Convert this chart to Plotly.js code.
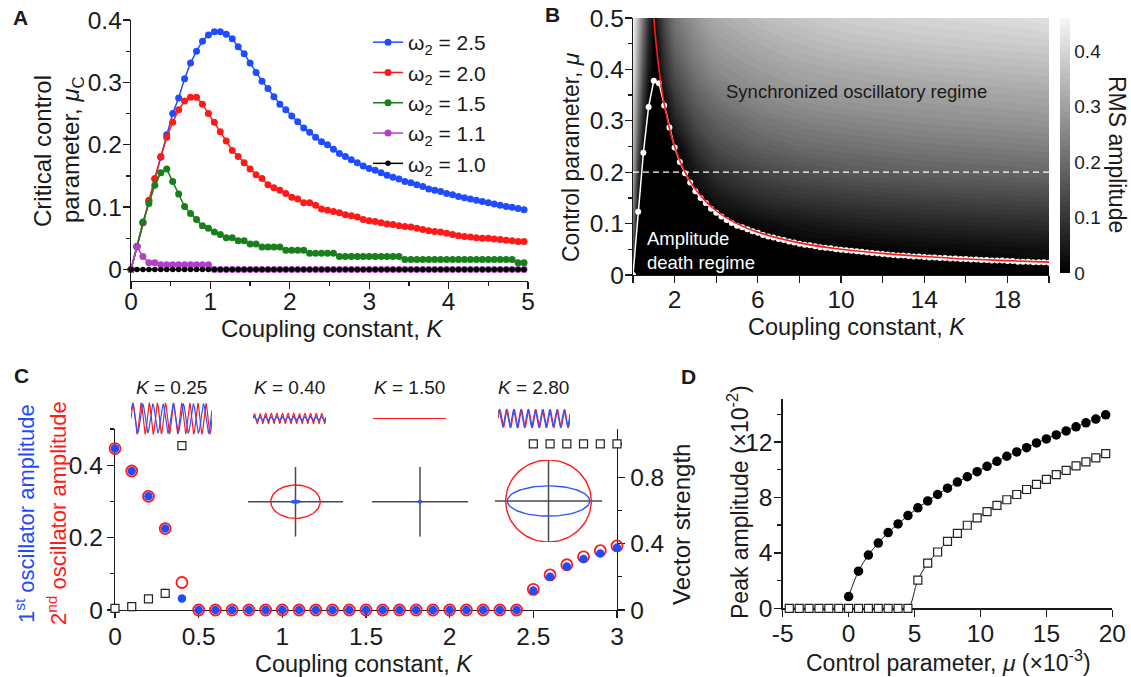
<!DOCTYPE html>
<html><head><meta charset="utf-8">
<script src="https://cdn.plot.ly/plotly-3.0.1.min.js"></script>
<style>body{margin:0;background:#fff}#chart{width:1131px;height:677px}</style>
</head><body><div id="chart"></div>
<script>
const W=1131,H=677;
const FONT='Liberation Sans, Arial, Helvetica, sans-serif';
const INK='#1a1a1a';
function px(a,b){return [a/W,b/W];}
function py(top,bot){return [1-bot/H,1-top/H];}
function grid(start,step,n){const o=[];for(let i=0;i<n;i++)o.push(+(start+i*step).toFixed(4));return o;}

// ---------- Panel A: critical control parameter vs K (K step 0.075) ----------
const A_K_step=0.075;
const muC_w25=[0,0.037,0.075,0.11,0.145,0.18,0.216,0.25,0.275,0.306,0.331,0.35,0.366,0.376,0.381,0.381,0.377,0.37,0.357,0.346,0.331,0.316,0.302,0.29,0.277,0.265,0.256,0.246,0.237,0.227,0.22,0.212,0.205,0.2,0.193,0.186,0.181,0.176,0.171,0.166,0.162,0.159,0.155,0.151,0.148,0.145,0.141,0.139,0.136,0.133,0.129,0.127,0.125,0.122,0.12,0.117,0.115,0.113,0.111,0.109,0.107,0.105,0.103,0.101,0.1,0.098,0.096];
const muC_w20=[0,0.037,0.075,0.111,0.146,0.181,0.212,0.236,0.256,0.27,0.276,0.276,0.265,0.25,0.236,0.221,0.206,0.191,0.181,0.171,0.161,0.152,0.146,0.136,0.131,0.127,0.122,0.116,0.113,0.107,0.107,0.103,0.097,0.095,0.093,0.091,0.088,0.086,0.084,0.08,0.078,0.077,0.075,0.073,0.072,0.07,0.069,0.068,0.066,0.064,0.062,0.061,0.06,0.058,0.056,0.054,0.053,0.052,0.051,0.05,0.05,0.049,0.048,0.047,0.046,0.045,0.045];
const muC_w15=[0,0.037,0.076,0.106,0.135,0.155,0.161,0.141,0.121,0.101,0.09,0.08,0.07,0.066,0.06,0.056,0.051,0.051,0.046,0.046,0.041,0.041,0.036,0.036,0.036,0.036,0.031,0.031,0.031,0.031,0.026,0.026,0.026,0.026,0.026,0.021,0.021,0.021,0.021,0.021,0.021,0.021,0.021,0.021,0.021,0.021,0.016,0.016,0.016,0.016,0.016,0.016,0.016,0.016,0.016,0.016,0.016,0.016,0.016,0.016,0.016,0.016,0.016,0.016,0.016,0.011,0.011];
const muC_w11=[0,0.036,0.021,0.011,0.011,0.0075,0.0075,0.0075,0.0075,0.0075,0.0075,0.0075,0.0075,0.0075,0,0,0,0,0,0,0,0,0,0,0,0,0,0,0,0,0,0,0,0,0,0,0,0,0,0,0,0,0,0,0,0,0,0,0,0,0,0,0,0,0,0,0,0,0,0,0,0,0,0,0,0,0];
const muC_w10=[0,0,0,0,0,0,0,0,0,0,0,0,0,0,0,0,0,0,0,0,0,0,0,0,0,0,0,0,0,0,0,0,0,0,0,0,0,0,0,0,0,0,0,0,0,0,0,0,0,0,0,0,0,0,0,0,0,0,0,0,0,0,0,0,0,0,0];
const A_names=['ω<sub>2</sub> = 2.5','ω<sub>2</sub> = 2.0','ω<sub>2</sub> = 1.5','ω<sub>2</sub> = 1.1','ω<sub>2</sub> = 1.0'];
const A_colors=['#1f4cff','#ff1a1a','#17801a','#b23fc8','#000000'];

// ---------- Panel B: RMS amplitude map ----------
const heatK=[0,0.25,0.5,0.75,1.0,1.25,1.5,2,3,4,6,8,10,14,18,20];
const heatMu=[0,0.05,0.1,0.15,0.2,0.25,0.3,0.35,0.4,0.45,0.5];
const heatZ=[
 [0,0,0,0,0,0,0,0,0,0,0,0,0,0,0,0],
 [0.15,0,0,0,0,0,0,0,0,0,0,0,0,0.015,0.025,0.03],
 [0.22,0,0,0,0,0,0,0,0,0,0.02,0.04,0.055,0.07,0.08,0.085],
 [0.27,0.04,0,0,0,0,0,0,0,0.04,0.08,0.1,0.11,0.125,0.135,0.14],
 [0.31,0.1,0,0,0,0,0,0,0.04,0.09,0.13,0.15,0.165,0.18,0.19,0.195],
 [0.35,0.15,0.02,0,0,0,0,0,0.09,0.14,0.18,0.2,0.21,0.225,0.235,0.24],
 [0.38,0.2,0.07,0,0,0,0,0.06,0.14,0.18,0.22,0.24,0.25,0.265,0.275,0.28],
 [0.41,0.24,0.11,0.02,0,0,0.03,0.11,0.18,0.22,0.26,0.28,0.29,0.3,0.31,0.315],
 [0.44,0.28,0.15,0.05,0,0.02,0.08,0.15,0.22,0.26,0.29,0.31,0.32,0.335,0.345,0.35],
 [0.46,0.31,0.18,0.07,0.01,0.05,0.11,0.19,0.25,0.29,0.32,0.34,0.355,0.37,0.38,0.385],
 [0.46,0.34,0.21,0.09,0.02,0.08,0.14,0.22,0.28,0.32,0.35,0.37,0.385,0.4,0.41,0.42]
];
const B_K_step=0.25;
const muB_sim=[0,0.123,0.238,0.327,0.378,0.373,0.33,0.287,0.248,0.22,0.198,0.18,0.163,0.15,0.14,0.129,0.121,0.114,0.107,0.101,0.096,0.093,0.089,0.085,0.082,0.078,0.075,0.073,0.07,0.068,0.065,0.063,0.061,0.059,0.058,0.056,0.054,0.053,0.052,0.05,0.049,0.048,0.047,0.046,0.045,0.044,0.043,0.042,0.041,0.04,0.039,0.038,0.038,0.037,0.036,0.036,0.035,0.034,0.034,0.033,0.033,0.032,0.032,0.031,0.031,0.03,0.03,0.029,0.029,0.028,0.028,0.028,0.027,0.027,0.026,0.026,0.026,0.025,0.025,0.025,0.024];
const theoryK=[1.0,1.05,1.1,1.2,1.3,1.4,1.5,1.75,2,2.5,3,4,5,6,8,10,12,14,16,18,20];
const theoryMu=[0.5,0.476,0.455,0.417,0.385,0.357,0.333,0.286,0.25,0.2,0.167,0.125,0.1,0.083,0.0625,0.05,0.042,0.036,0.031,0.028,0.025];
const muDashed=0.2;

// ---------- Panel C ----------
const C_K_step=0.1;
const amp1=[0.446,0.384,0.314,0.225,0.032,0,0,0,0,0,0,0,0,0,0,0,0,0,0,0,0,0,0,0,0,0.054,0.092,0.12,0.141,0.156,0.172];
const amp2=[0.446,0.384,0.314,0.225,0.076,0,0,0,0,0,0,0,0,0,0,0,0,0,0,0,0,0,0,0,0,0.057,0.097,0.125,0.147,0.164,0.177];
const vecStrength=[0.01,0.02,0.067,0.1,0.99,null,null,null,null,null,null,null,null,null,null,null,null,null,null,null,null,null,null,null,null,1,1,1,1,1,1];
const insetLabels=['<i>K</i> = 0.25','<i>K</i> = 0.40','<i>K</i> = 1.50','<i>K</i> = 2.80'];
const waveRedAmp=[0.93,0.3,0,0.55], waveBlueAmp=[0.88,0.12,null,0.52];
const waveRedCycles=[10,13,13,10], waveBlueCycles=[8,13,13,10];
const phaseRedRx=[0.52,null,0.8], phaseRedRy=[0.477,null,1.0];
const phaseBlueRx=[0.09,0.03,0.77], phaseBlueRy=[0.03,0.03,0.37];

// ---------- Panel D ----------
const muD_circ_step=0.75;
const peakCirc=[0.85,2.68,3.84,4.71,5.46,6.09,6.69,7.25,7.75,8.21,8.67,9.11,9.49,9.86,10.24,10.6,10.97,11.28,11.59,11.93,12.22,12.51,12.8,13.09,13.38,13.65,13.96];
const peakSq=[0,0,0,0,0,0,0,0,0,0,0,0,0,2.03,3.26,4.06,4.83,5.41,5.99,6.52,6.98,7.42,7.83,8.21,8.57,8.94,9.3,9.64,9.95,10.27,10.56,10.85,11.16];

// ================= build =================
const traces=[];
const KA=grid(0,A_K_step,muC_w25.length);
[muC_w25,muC_w20,muC_w15,muC_w11,muC_w10].forEach((ys,i)=>{
  traces.push({type:'scatter',mode:'lines+markers',x:KA,y:ys,name:A_names[i],xaxis:'x',yaxis:'y',
    line:{color:A_colors[i],width:1.5},marker:{color:A_colors[i],size:i===4?5.5:7},cliponaxis:false,showlegend:true});
});

// B
traces.push({type:'contour',x:heatK,y:heatMu,z:heatZ,xaxis:'x2',yaxis:'y2',zmin:0,zmax:0.46,
  colorscale:[[0,'#000000'],[1,'#f6f6f6']],contours:{start:0,end:0.46,size:0.01,coloring:'fill'},
  line:{width:0},showlegend:false,
  colorbar:{x:1060/W,xanchor:'left',y:1-18/H,yanchor:'top',len:255,lenmode:'pixels',thickness:10,thicknessmode:'pixels',
    outlinewidth:0,xpad:0,ypad:0,ticks:'',tickvals:[0,0.1,0.2,0.3,0.4],ticktext:['0','0.1','0.2','0.3','0.4'],
    tickfont:{size:19,family:FONT,color:INK}}});
const KB=grid(0,B_K_step,muB_sim.length);
traces.push({type:'scatter',mode:'none',x:KB,y:muB_sim,fill:'tozeroy',fillcolor:'#000000',xaxis:'x2',yaxis:'y2',showlegend:false,hoverinfo:'skip'});
traces.push({type:'scatter',mode:'lines',x:[0,20],y:[muDashed,muDashed],line:{color:'#ffffff',width:1.2,dash:'6px,4px'},xaxis:'x2',yaxis:'y2',showlegend:false});
traces.push({type:'scatter',mode:'lines+markers',x:KB,y:muB_sim,line:{color:'#ffffff',width:1.5},marker:{color:'#ffffff',size:6},xaxis:'x2',yaxis:'y2',showlegend:false,cliponaxis:false});
traces.push({type:'scatter',mode:'lines',x:theoryK,y:theoryMu,line:{color:'#ff1a1a',width:1.6,shape:'spline'},xaxis:'x2',yaxis:'y2',showlegend:false});

// C
const KC=grid(0,C_K_step,amp1.length);
traces.push({type:'scatter',mode:'markers',x:KC,y:vecStrength,xaxis:'x3',yaxis:'y4',marker:{symbol:'square',size:8,color:'#ffffff',line:{color:'#222',width:1.2}},cliponaxis:false,showlegend:false});
traces.push({type:'scatter',mode:'markers',x:KC,y:amp2,xaxis:'x3',yaxis:'y3',marker:{symbol:'circle-open',size:11,color:'#ff1a1a',line:{width:1.8}},cliponaxis:false,showlegend:false});
traces.push({type:'scatter',mode:'markers',x:KC,y:amp1,xaxis:'x3',yaxis:'y3',marker:{symbol:'circle',size:8.5,color:'#1f4cff',line:{width:0}},cliponaxis:false,showlegend:false});

// C insets
const waveDom=[[131,212],[253,326],[373,446],[498,570]];
const tgrid=grid(0,1/299,300);
const layoutInsets={};
let ax=5;
waveDom.forEach((d,i)=>{
  const xa='xaxis'+ax, ya='yaxis'+(ax+1);
  layoutInsets[xa]={domain:px(d[0],d[1]),anchor:'y'+(ax+1),visible:false,range:[0,1],fixedrange:true};
  layoutInsets[ya]={domain:py(402,435),anchor:'x'+ax,visible:false,range:[-1,1],fixedrange:true};
  traces.push({type:'scatter',mode:'lines',x:tgrid,y:tgrid.map(t=>waveRedAmp[i]*Math.sin(2*Math.PI*waveRedCycles[i]*t)),
    line:{color:'#ff1a1a',width:1.2},xaxis:'x'+ax,yaxis:'y'+(ax+1),showlegend:false,hoverinfo:'skip'});
  if(waveBlueAmp[i]!==null){
    traces.push({type:'scatter',mode:'lines',x:tgrid,y:tgrid.map(t=>waveBlueAmp[i]*Math.sin(2*Math.PI*waveBlueCycles[i]*t+0.6)),
      line:{color:'#2a55ff',width:1.2},xaxis:'x'+ax,yaxis:'y'+(ax+1),showlegend:false,hoverinfo:'skip'});
  }
  ax++;
});
const phaseDomX=[[248,343],[372,468],[495,602]];
const phaseDomY=[[466.7,536.7],[466.7,536.7],[460,542]];
const theta=grid(0,2*Math.PI/96,97);
phaseDomX.forEach((d,i)=>{
  const xa='xaxis'+ax, ya='yaxis'+(ax+1);
  layoutInsets[xa]={domain:px(d[0],d[1]),anchor:'y'+(ax+1),visible:false,range:[-1,1],fixedrange:true};
  layoutInsets[ya]={domain:py(phaseDomY[i][0],phaseDomY[i][1]),anchor:'x'+ax,visible:false,range:[-1,1],fixedrange:true};
  const X='x'+ax, Y='y'+(ax+1);
  traces.push({type:'scatter',mode:'lines',x:[-1,1],y:[0,0],line:{color:'#4a4a4a',width:1.5},xaxis:X,yaxis:Y,showlegend:false,hoverinfo:'skip'});
  traces.push({type:'scatter',mode:'lines',x:[0,0],y:[-1,1],line:{color:'#4a4a4a',width:1.5},xaxis:X,yaxis:Y,showlegend:false,hoverinfo:'skip'});
  if(phaseRedRx[i]!==null){
    traces.push({type:'scatter',mode:'lines',x:theta.map(t=>phaseRedRx[i]*Math.cos(t)),y:theta.map(t=>phaseRedRy[i]*Math.sin(t)),
      line:{color:'#ff1a1a',width:1.4},xaxis:X,yaxis:Y,showlegend:false,hoverinfo:'skip',cliponaxis:false});
  }
  traces.push({type:'scatter',mode:'lines',x:theta.map(t=>phaseBlueRx[i]*Math.cos(t)),y:theta.map(t=>phaseBlueRy[i]*Math.sin(t)),
    line:{color:'#2a55ff',width:i===2?1.4:2},xaxis:X,yaxis:Y,showlegend:false,hoverinfo:'skip',cliponaxis:false});
  ax++;
});

// D
const muCirc=grid(0,muD_circ_step,peakCirc.length);
const muSq=grid(-4.5,muD_circ_step,peakSq.length);
traces.push({type:'scatter',mode:'lines+markers',x:muSq,y:peakSq,xaxis:'x4',yaxis:'y5',line:{color:'#222',width:1,shape:'spline'},
  marker:{symbol:'square',size:8,color:'#ffffff',line:{color:'#222',width:1.2}},cliponaxis:false,showlegend:false});
traces.push({type:'scatter',mode:'lines+markers',x:muCirc,y:peakCirc,xaxis:'x4',yaxis:'y5',line:{color:'#222',width:1,shape:'spline'},
  marker:{symbol:'circle',size:9.5,color:'#000'},cliponaxis:false,showlegend:false});

// ================= layout =================
const TF=24.5;
const tickStyle={showline:true,linecolor:INK,linewidth:1.3,ticks:'outside',ticklen:7,tickwidth:1.3,tickcolor:INK,
  showgrid:false,zeroline:false,tickfont:{size:TF,family:FONT,color:INK},fixedrange:true};
function minor(vals,len){return {tickvals:vals,ticklen:len||4,tickwidth:1.3,tickcolor:INK,showgrid:false};}

const ann=[];
function A(text,x,y,o){ann.push(Object.assign({text:text,x:x/W,y:1-y/H,xref:'paper',yref:'paper',showarrow:false,
  xanchor:'center',yanchor:'middle',font:{size:24,family:FONT,color:INK}},o||{}));}
const F=(s,c)=>({size:s,family:FONT,color:c||INK});
// panel letters
A('<b>A</b>',20,18,{font:F(21)});
A('<b>B</b>',552,15,{font:F(21)});
A('<b>C</b>',21,375,{font:F(21)});
A('<b>D</b>',688,376,{font:F(21)});
// A titles
A('Critical control',42,151,{textangle:-90});
A('parameter, <i>μ</i><sub>C</sub>',73,150,{textangle:-90});
A('Coupling constant, <i>K</i>',332,328);
// B titles
A('Control parameter, <i>μ</i>',571,157,{textangle:-90,font:F(23)});
A('Coupling constant, <i>K</i>',857,327,{font:F(23.5)});
A('RMS amplitude',1117,154,{textangle:90,font:F(23)});
A('Synchronized oscillatory regime',857,92,{font:F(18.5)});
A('Amplitude<br>death regime',645,250,{xanchor:'left',align:'left',font:F(18.5,'#ffffff')});
// C titles
A('1<sup>st</sup> oscillator amplitude',25,514,{textangle:-90,font:F(22,'#1f4cff')});
A('2<sup>nd</sup> oscillator amplitude',57,513,{textangle:-90,font:F(22,'#ff1a1a')});
A('Vector strength',681,525,{textangle:-90});
A('Coupling constant, <i>K</i>',364,664,{font:F(23.5)});
const insetLabelX=[171,289,409,533];
insetLabels.forEach((t,i)=>A(t,insetLabelX[i],387,{font:F(19)}));
// D titles
A('Peak amplitude (×10<sup>-2</sup>)',738,502,{textangle:-90,font:F(23)});
A('Control parameter, <i>μ</i> (×10<sup>-3</sup>)',948,661,{font:F(23)});

const layout=Object.assign({
  width:W,height:H,margin:{l:0,r:0,t:0,b:0},paper_bgcolor:'#fff',plot_bgcolor:'rgba(0,0,0,0)',
  font:{family:FONT,color:INK},
  showlegend:true,
  legend:{x:368/W,y:1-22/H,xanchor:'left',yanchor:'top',bgcolor:'rgba(0,0,0,0)',font:F(21),tracegroupgap:0,itemwidth:30},
  xaxis:Object.assign({},tickStyle,{domain:px(131,528),anchor:'y',range:[0,5],tickvals:[0,1,2,3,4,5],ticklabelstandoff:-9,minor:minor([0.5,1.5,2.5,3.5,4.5])}),
  yaxis:Object.assign({},tickStyle,{domain:py(20,281),anchor:'x',range:[-0.0184,0.4],tickvals:[0,0.1,0.2,0.3,0.4],ticktext:['0','0.1','0.2','0.3','0.4'],ticklabelstandoff:-4,minor:minor([0.05,0.15,0.25,0.35])}),
  xaxis2:Object.assign({},tickStyle,{domain:px(633,1049),anchor:'y2',range:[0,20],tickvals:[2,6,10,14,18],ticklabelstandoff:-5,minor:minor([0,4,8,12,16,20],7)}),
  yaxis2:Object.assign({},tickStyle,{domain:py(18,275),anchor:'x2',range:[0,0.5],tickvals:[0,0.1,0.2,0.3,0.4,0.5],ticktext:['0','0.1','0.2','0.3','0.4','0.5'],ticklabelstandoff:-4,minor:minor([0.05,0.15,0.25,0.35,0.45])}),
  xaxis3:Object.assign({},tickStyle,{domain:px(115,617),anchor:'y3',range:[0,3],tickvals:[0,0.5,1,1.5,2,2.5,3],ticktext:['0','0.5','1','1.5','2','2.5','3'],ticklabelstandoff:-3,layer:'below traces'}),
  yaxis3:Object.assign({},tickStyle,{domain:py(429,610),anchor:'x3',range:[0,0.5],tickvals:[0,0.2,0.4],ticktext:['0','0.2','0.4'],ticklabelstandoff:-1,minor:minor([0.1,0.3,0.5]),layer:'below traces'}),
  yaxis4:Object.assign({},tickStyle,{overlaying:'y3',side:'right',anchor:'x3',range:[0,1.09],tickvals:[0,0.4,0.8],ticktext:['0','0.4','0.8'],minor:minor([0.2,0.6,1.0]),layer:'below traces'}),
  xaxis4:Object.assign({},tickStyle,{domain:px(782.7,1112.3),anchor:'y5',range:[-5,20],tickvals:[-5,0,5,10,15,20],ticktext:['-5','0','5','10','15','20'],ticklabelstandoff:-4,layer:'below traces'}),
  yaxis5:Object.assign({},tickStyle,{domain:py(399,608.3),anchor:'x4',range:[0,15.1],tickvals:[0,4,8,12],ticklabelstandoff:-3,minor:minor([2,6,10,14]),layer:'below traces'}),
  annotations:ann
},layoutInsets);

Plotly.newPlot('chart',traces,layout,{displayModeBar:false,staticPlot:true});
</script></body></html>
